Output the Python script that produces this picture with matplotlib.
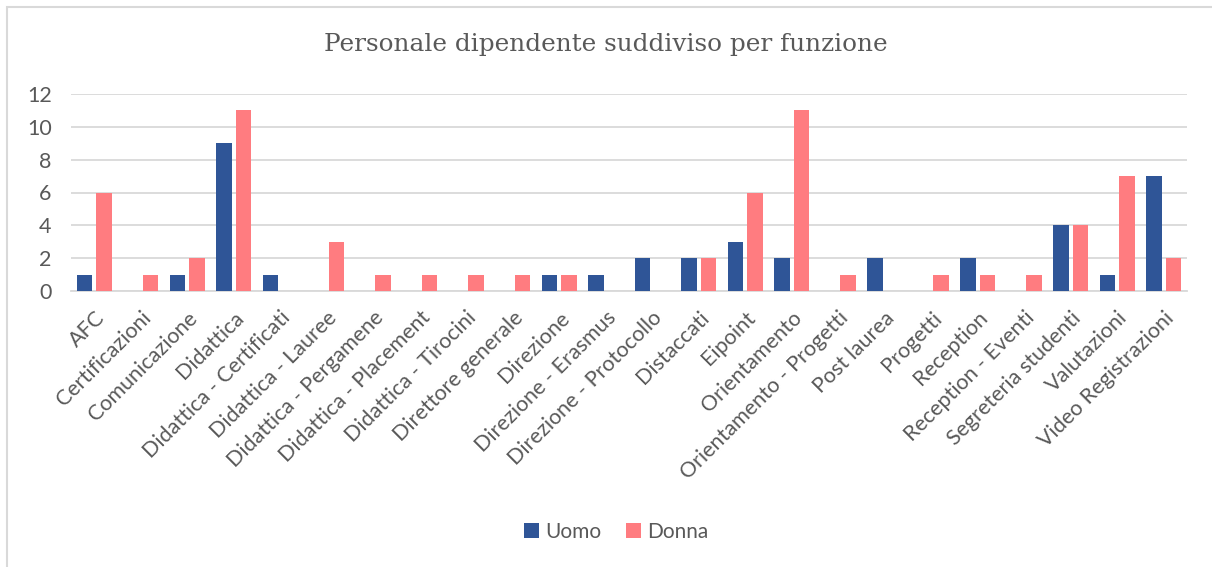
import matplotlib
matplotlib.use("Agg")
import matplotlib.pyplot as plt
import numpy as np
from matplotlib.patches import Rectangle

categories = ["AFC", "Certificazioni", "Comunicazione", "Didattica",
              "Didattica - Certificati", "Didattica - Lauree", "Didattica - Pergamene",
              "Didattica - Placement", "Didattica - Tirocini", "Direttore generale",
              "Direzione", "Direzione - Erasmus", "Direzione - Protocollo", "Distaccati",
              "Eipoint", "Orientamento", "Orientamento - Progetti", "Post laurea",
              "Progetti", "Reception", "Reception - Eventi", "Segreteria studenti",
              "Valutazioni", "Video Registrazioni"]
uomo = [1, 0, 1, 9, 1, 0, 0, 0, 0, 0, 1, 1, 2, 2, 3, 2, 0, 2, 0, 2, 0, 4, 1, 7]
donna = [6, 1, 2, 11, 0, 3, 1, 1, 1, 1, 1, 0, 0, 2, 6, 11, 1, 0, 1, 1, 1, 4, 7, 2]
yticks = [0, 2, 4, 6, 8, 10, 12]

W, H = 1212, 567
fig = plt.figure(figsize=(W / 100, H / 100), dpi=100)
ax = fig.add_axes([71 / W, 1 - 291 / H, (1187 - 71) / W, (291 - 94) / H])

x = np.arange(len(categories))
bw = 0.33
off = 0.208
col_u = "#2F5597"
col_d = "#FF7C80"
ax.bar(x - off, uomo, bw, color=col_u, label="Uomo", zorder=3)
ax.bar(x + off, donna, bw, color=col_d, label="Donna", zorder=3)

ax.set_xlim(-0.5, len(categories) - 0.5)
ax.set_ylim(0, 12)
ax.set_yticks(yticks)
ax.yaxis.grid(True, color="#D9D9D9", linewidth=1.3, zorder=0)
for s in ["top", "right", "left"]:
    ax.spines[s].set_visible(False)
ax.spines["bottom"].set_color("#D9D9D9")
ax.spines["bottom"].set_linewidth(1.3)
ax.tick_params(axis="both", length=0, colors="#595959")
ax.tick_params(axis="y", labelsize=15.5, pad=14)
ax.set_xticks(x)
ax.set_xticklabels(categories, rotation=45, ha="right", rotation_mode="anchor",
                   fontsize=15.5, color="#595959", family="Lato")
for lab in ax.get_yticklabels():
    lab.set_family("Lato")
ax.tick_params(axis="x", pad=12)

fig.text(0.5, 1 - 45 / H, "Personale dipendente suddiviso per funzione",
         ha="center", va="center", fontsize=17.8, color="#595959",
         family="DejaVu Serif")

leg = fig.legend(loc="center", bbox_to_anchor=(616 / W, 1 - 532 / H), ncol=2,
                 frameon=False, prop={"family": "Lato", "size": 15},
                 handlelength=0.7, handleheight=0.7, handletextpad=0.3,
                 columnspacing=1.2)
for t in leg.get_texts():
    t.set_color("#595959")

# chart border
fig.add_artist(Rectangle((7 / W, -0.05), 1.2, 1 - 7 / H + 0.05,
                         transform=fig.transFigure, fill=False,
                         edgecolor="#D9D9D9", linewidth=1.5))

fig.savefig("out.png", dpi=100, facecolor="white")
